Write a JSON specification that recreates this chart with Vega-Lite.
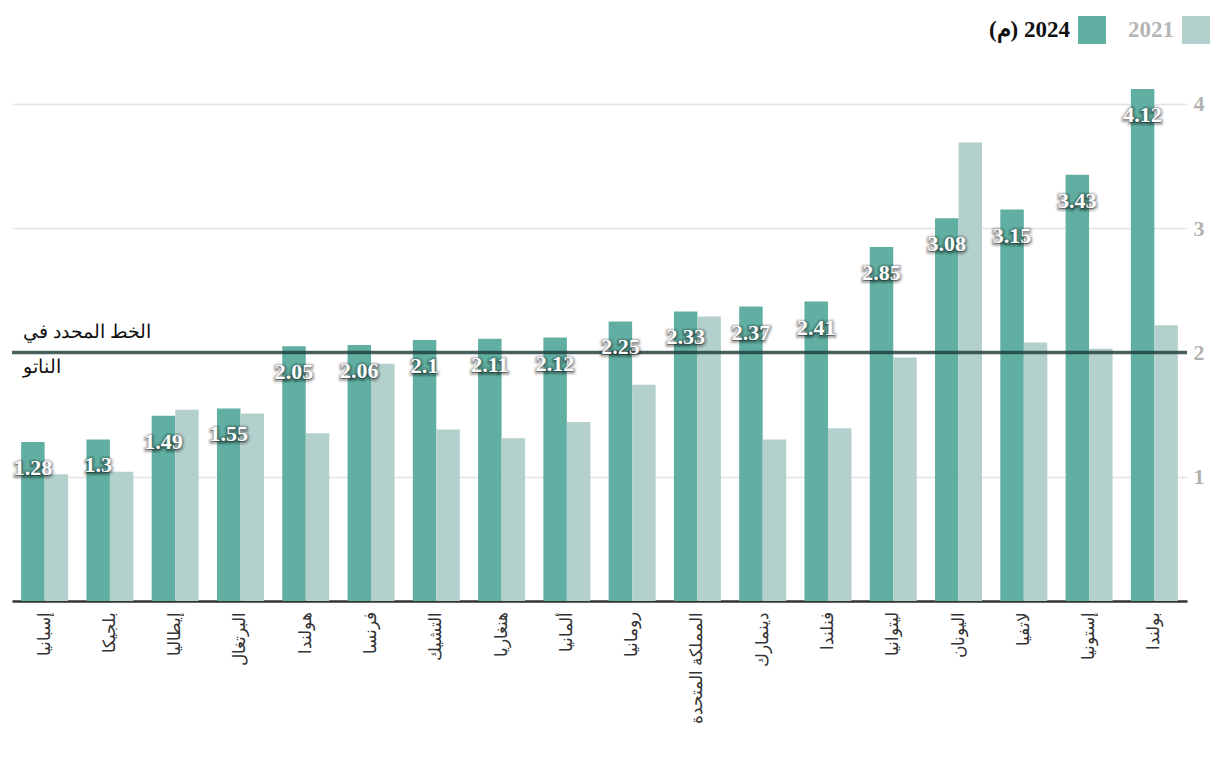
{
  "$schema": "https://vega.github.io/schema/vega-lite/v6.json",
  "width": 1175,
  "height": 601,
  "padding": {"left": 10, "top": 0, "right": 0, "bottom": 0},
  "background": "white",
  "config": {"view": {"stroke": null}},
  "datasets": {
    "bars": [
      {"country": "إسبانيا", "year": "2024", "value": 1.28},
      {"country": "إسبانيا", "year": "2021", "value": 1.02},
      {"country": "بلجيكا", "year": "2024", "value": 1.30},
      {"country": "بلجيكا", "year": "2021", "value": 1.04},
      {"country": "إيطاليا", "year": "2024", "value": 1.49},
      {"country": "إيطاليا", "year": "2021", "value": 1.54},
      {"country": "البرتغال", "year": "2024", "value": 1.55},
      {"country": "البرتغال", "year": "2021", "value": 1.51},
      {"country": "هولندا", "year": "2024", "value": 2.05},
      {"country": "هولندا", "year": "2021", "value": 1.35},
      {"country": "فرنسا", "year": "2024", "value": 2.06},
      {"country": "فرنسا", "year": "2021", "value": 1.91},
      {"country": "التشيك", "year": "2024", "value": 2.10},
      {"country": "التشيك", "year": "2021", "value": 1.38},
      {"country": "هنغاريا", "year": "2024", "value": 2.11},
      {"country": "هنغاريا", "year": "2021", "value": 1.31},
      {"country": "ألمانيا", "year": "2024", "value": 2.12},
      {"country": "ألمانيا", "year": "2021", "value": 1.44},
      {"country": "رومانيا", "year": "2024", "value": 2.25},
      {"country": "رومانيا", "year": "2021", "value": 1.74},
      {"country": "المملكة المتحدة", "year": "2024", "value": 2.33},
      {"country": "المملكة المتحدة", "year": "2021", "value": 2.29},
      {"country": "دينمارك", "year": "2024", "value": 2.37},
      {"country": "دينمارك", "year": "2021", "value": 1.30},
      {"country": "فنلندا", "year": "2024", "value": 2.41},
      {"country": "فنلندا", "year": "2021", "value": 1.39},
      {"country": "ليتوانيا", "year": "2024", "value": 2.85},
      {"country": "ليتوانيا", "year": "2021", "value": 1.96},
      {"country": "اليونان", "year": "2024", "value": 3.08},
      {"country": "اليونان", "year": "2021", "value": 3.69},
      {"country": "لاتفيا", "year": "2024", "value": 3.15},
      {"country": "لاتفيا", "year": "2021", "value": 2.08},
      {"country": "إستونيا", "year": "2024", "value": 3.43},
      {"country": "إستونيا", "year": "2021", "value": 2.03},
      {"country": "بولندا", "year": "2024", "value": 4.12},
      {"country": "بولندا", "year": "2021", "value": 2.22}
    ],
    "nato": [
      {"target": 2, "line1": "الخط المحدد في", "line2": "الناتو", "anchor": "إسبانيا"}
    ]
  },
  "encoding": {
    "x": {
      "field": "country",
      "type": "nominal",
      "sort": null,
      "scale": {"paddingInner": 0.28, "paddingOuter": 0.14},
      "axis": {
        "title": null,
        "labelAngle": 270,
        "labelFont": "Noto Sans",
        "labelFontSize": 17,
        "labelFontWeight": 500,
        "labelColor": "#333333",
        "labelPadding": 10,
        "ticks": false,
        "domain": true,
        "domainColor": "#333333",
        "domainWidth": 2.5,
        "labelLimit": 300
      }
    },
    "y": {
      "type": "quantitative",
      "scale": {"domain": [0, 4.837], "nice": false, "zero": true},
      "axis": {
        "title": null,
        "orient": "right",
        "values": [1, 2, 3, 4],
        "grid": true,
        "gridColor": "#e3e3e3",
        "gridWidth": 1.5,
        "domain": false,
        "ticks": false,
        "labelFont": "Liberation Serif",
        "labelFontWeight": "bold",
        "labelFontSize": 22,
        "labelColor": "#b3b3b3",
        "labelPadding": 6
      }
    }
  },
  "layer": [
    {
      "data": {"name": "bars"},
      "mark": {"type": "bar"},
      "encoding": {
        "y": {"field": "value", "type": "quantitative"},
        "xOffset": {"field": "year", "type": "nominal", "scale": {"domain": ["2024", "2021"], "paddingInner": 0}},
        "color": {
          "field": "year",
          "type": "nominal",
          "scale": {"domain": ["2024", "2021"], "range": ["#60afa2", "#b4d0cc"]},
          "legend": {
            "title": null,
            "orient": "none",
            "legendX": 1066,
            "legendY": 16,
            "direction": "horizontal",
            "symbolType": "square",
            "symbolSize": 784,
            "symbolStrokeWidth": 0,
            "symbolOpacity": 1,
            "labelOffset": -36,
            "labelAlign": "right",
            "labelFont": "Liberation Serif",
            "labelFontWeight": "bold",
            "labelFontSize": 23,
            "columnPadding": 22,
            "labelExpr": "datum.label == '2024' ? '(م)\u200e 2024' : datum.label",
            "encode": {"labels": {"update": {"fill": {"signal": "datum.value === '2021' ? '#b5b5b5' : '#111111'"}}}}
          }
        }
      }
    },
    {
      "data": {"name": "nato"},
      "mark": {"type": "rule", "color": "#1e3b38", "opacity": 0.8, "strokeWidth": 3.5},
      "encoding": {"y": {"field": "target", "type": "quantitative"}, "x": null}
    },
    {
      "data": {"name": "nato"},
      "mark": {"type": "text", "align": "left", "baseline": "alphabetic", "dx": 2, "dy": -14, "font": "Noto Sans", "fontSize": 19, "fontWeight": 500, "color": "#111111"},
      "encoding": {
        "x": {"field": "anchor", "type": "nominal", "bandPosition": 0},
        "y": {"field": "target", "type": "quantitative"},
        "text": {"field": "line1"}
      }
    },
    {
      "data": {"name": "nato"},
      "mark": {"type": "text", "align": "left", "baseline": "alphabetic", "dx": 2, "dy": 21, "font": "Noto Sans", "fontSize": 19, "fontWeight": 500, "color": "#111111"},
      "encoding": {
        "x": {"field": "anchor", "type": "nominal", "bandPosition": 0},
        "y": {"field": "target", "type": "quantitative"},
        "text": {"field": "line2"}
      }
    },
    {
      "data": {"name": "bars"},
      "transform": [{"filter": "datum.year == '2024'"}],
      "mark": {"type": "text", "align": "center", "baseline": "middle", "dy": 27, "dx": 0, "font": "Liberation Serif", "fontWeight": "bold", "fontSize": 22, "fill": "#000000", "stroke": "#000000", "strokeWidth": 7, "strokeOpacity": 0.1, "fillOpacity": 0.2, "strokeJoin": "round"},
      "encoding": {
        "y": {"field": "value", "type": "quantitative"},
        "xOffset": {"datum": "2024"},
        "text": {"field": "value", "type": "quantitative", "format": "~g"}
      }
    },
    {
      "data": {"name": "bars"},
      "transform": [{"filter": "datum.year == '2024'"}],
      "mark": {"type": "text", "align": "center", "baseline": "middle", "dy": 27, "dx": 0, "font": "Liberation Serif", "fontWeight": "bold", "fontSize": 22, "fill": "#000000", "stroke": "#000000", "strokeWidth": 3.5, "strokeOpacity": 0.22, "fillOpacity": 0.3, "strokeJoin": "round"},
      "encoding": {
        "y": {"field": "value", "type": "quantitative"},
        "xOffset": {"datum": "2024"},
        "text": {"field": "value", "type": "quantitative", "format": "~g"}
      }
    },
    {
      "data": {"name": "bars"},
      "transform": [{"filter": "datum.year == '2024'"}],
      "mark": {"type": "text", "align": "center", "baseline": "middle", "dy": 26, "font": "Liberation Serif", "fontWeight": "bold", "fontSize": 22, "fill": "#ffffff"},
      "encoding": {
        "y": {"field": "value", "type": "quantitative"},
        "xOffset": {"datum": "2024"},
        "text": {"field": "value", "type": "quantitative", "format": "~g"}
      }
    }
  ]
}
